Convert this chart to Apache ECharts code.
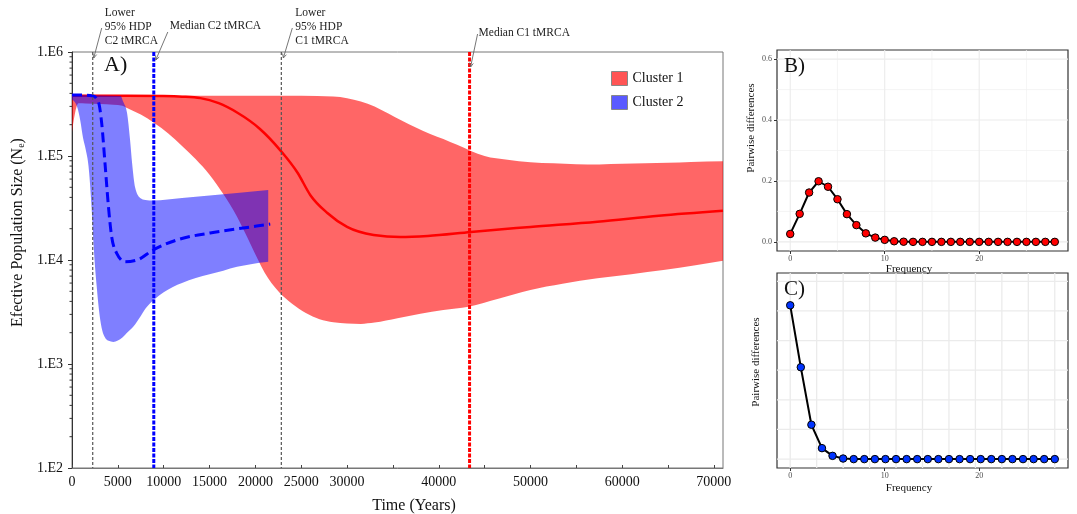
<!DOCTYPE html>
<html><head><meta charset="utf-8">
<script src="https://cdn.jsdelivr.net/npm/echarts@6/dist/echarts.min.js"></script>
<style>html,body{margin:0;padding:0;background:#fff}#c{width:1077px;height:514px}</style>
</head><body><div id="c"></div>
<script>
// ---------------- DATA ----------------
// Panel A: Bayesian skyline (years vs effective population size)
const c1UpperYears = [0, 5000, 10000, 15000, 20000, 25000, 28500, 30000, 31500, 33000, 34500, 36000, 37500, 39000, 40500, 42000, 43500, 45000, 47500, 50000, 52500, 55000, 57500, 60000, 62500, 65000, 67500, 71000];
const c1UpperNe    = [380000, 380000, 380000, 380000, 380000, 379000, 374000, 360000, 335000, 300000, 256000, 218000, 188000, 164000, 146000, 128000, 112000, 100000, 92000, 87000, 85000, 83500, 83000, 84000, 85000, 86000, 87500, 89000];
const c1LowerYears = [0, 300, 700, 1500, 3000, 4500, 5500, 6000, 7500, 9000, 10500, 12000, 13500, 15000, 16500, 18000, 19500, 21000, 22500, 24000, 25500, 27000, 28500, 30000, 31500, 33000, 35500, 38000, 40500, 43250, 46500, 50000, 53500, 57300, 61000, 64500, 68000, 71000];
const c1LowerNe    = [170000, 250000, 322000, 320000, 316000, 311000, 305000, 290000, 250000, 207000, 165000, 125000, 93000, 66000, 43000, 26000, 14000, 7600, 5000, 3800, 3100, 2700, 2520, 2450, 2430, 2500, 2750, 3050, 3300, 3560, 4250, 5150, 5900, 6670, 7300, 8000, 8900, 9850];
const c1MedianYears = [0, 6000, 10000, 12000, 14000, 16000, 18000, 20500, 22700, 24600, 26000, 27850, 30000, 32900, 35800, 38800, 43500, 50000, 57300, 64000, 71000];
const c1MedianNe    = [380000, 380000, 377000, 372000, 360000, 322000, 262000, 182000, 114000, 69000, 42000, 28300, 20800, 17400, 16600, 17000, 18600, 20800, 23300, 26700, 29800];

const c2UpperYears = [0, 3000, 5300, 5600, 6000, 6330, 6550, 6880, 7430, 8000, 8850, 12000, 15000, 18000, 21400];
const c2UpperNe    = [385000, 382000, 378000, 330000, 260000, 143000, 86000, 50000, 39500, 37800, 37300, 39500, 41700, 44200, 47100];
const c2LowerYears = [0, 300, 600, 900, 1200, 1500, 1800, 2100, 2400, 2700, 3000, 3300, 3600, 4000, 4500, 5000, 5500, 6000, 6700, 7500, 8000, 9000, 10000, 11000, 12000, 13500, 15000, 16500, 18000, 19500, 21400];
const c2LowerNe    = [350000, 330000, 290000, 220000, 150000, 115000, 80000, 36000, 12000, 5500, 3000, 2100, 1800, 1670, 1630, 1680, 1800, 2000, 2300, 2900, 3400, 4200, 4900, 5500, 6000, 6700, 7300, 7900, 8600, 9100, 9600];
const c2MedianYears = [0, 1000, 2300, 2870, 3240, 3600, 3970, 4330, 4880, 5790, 7100, 8850, 11470, 15070, 18670, 21620];
const c2MedianNe    = [385000, 385000, 377000, 333000, 206000, 85000, 33000, 16700, 11600, 9600, 10000, 12500, 15600, 18200, 20300, 22200];

const tmrcaYears  = [2260, 8920, 22830, 43360];
const tmrcaLabels = ['Lower\n95% HDP\nC2 tMRCA', 'Median C2 tMRCA', 'Lower\n95% HDP\nC1 tMRCA', 'Median C1 tMRCA'];

const xTickValues  = [0, 5000, 10000, 15000, 20000, 25000, 30000, 35000, 40000, 45000, 50000, 55000, 60000, 65000, 70000];
const xLabelValues = [0, 5000, 10000, 15000, 20000, 25000, 30000, 40000, 50000, 60000, 70000];
const yMinorTicks  = [200, 300, 400, 500, 600, 700, 800, 900, 2000, 3000, 4000, 5000, 6000, 7000, 8000, 9000,
                      20000, 30000, 40000, 50000, 60000, 70000, 80000, 90000, 200000, 300000, 400000, 500000, 600000, 700000, 800000, 900000];

// Panel B: mismatch distribution, Cluster 1
const bX = [0, 1, 2, 3, 4, 5, 6, 7, 8, 9, 10, 11, 12, 13, 14, 15, 16, 17, 18, 19, 20, 21, 22, 23, 24, 25, 26, 27, 28];
const bY = [0.026, 0.092, 0.162, 0.199, 0.181, 0.140, 0.091, 0.055, 0.028, 0.014, 0.0066, 0.002, 0.0005, 0, 0, 0, 0, 0, 0, 0, 0, 0, 0, 0, 0, 0, 0, 0, 0];
// Panel C: mismatch distribution, Cluster 2
const cX = [0, 1.12, 2.24, 3.36, 4.48, 5.6, 6.72, 7.84, 8.96, 10.08, 11.2, 12.32, 13.44, 14.56, 15.68, 16.8, 17.92, 19.04, 20.16, 21.28, 22.4, 23.52, 24.64, 25.76, 26.88, 28];
const cY = [0.519, 0.310, 0.116, 0.037, 0.011, 0.002, 0, 0, 0, 0, 0, 0, 0, 0, 0, 0, 0, 0, 0, 0, 0, 0, 0, 0, 0, 0];

const mmLabelX = [0, 10, 20];
const bLabelY  = [0, 0.2, 0.4, 0.6];
const bGridMajorX = [0, 10, 20], bGridMinorX = [5, 15, 25];
const bGridMajorY = [0, 0.2, 0.4, 0.6], bGridMinorY = [0.1, 0.3, 0.5];
const cGridX = [0, 2.8, 5.6, 8.4, 11.2, 14, 16.8, 19.6, 22.4, 25.2, 28];
const cGridY = [0, 0.1, 0.2, 0.3, 0.4, 0.5, 0.6];

// ---------------- STYLE / RENDER ----------------
const F = '"Liberation Serif","Times New Roman",serif';
const pairs = (xs, ys) => xs.map((x, i) => [x, ys[i]]);

function monoSegs(pts) {
  const n = pts.length, h = [], s = [], t = [];
  for (let i = 0; i < n - 1; i++) { h[i] = pts[i + 1][0] - pts[i][0]; s[i] = (pts[i + 1][1] - pts[i][1]) / (h[i] || 1e-6); }
  for (let i = 1; i < n - 1; i++) {
    const p = (s[i - 1] * h[i] + s[i] * h[i - 1]) / (h[i - 1] + h[i]);
    t[i] = (Math.sign(s[i - 1]) + Math.sign(s[i])) * Math.min(Math.abs(s[i - 1]), Math.abs(s[i]), 0.5 * Math.abs(p));
  }
  t[0] = n > 2 ? (3 * s[0] - t[1]) / 2 : s[0];
  t[n - 1] = n > 2 ? (3 * s[n - 2] - t[n - 2]) / 2 : s[n - 2];
  const segs = [];
  for (let i = 0; i < n - 1; i++) {
    const d = h[i] / 3;
    segs.push([pts[i], [pts[i][0] + d, pts[i][1] + d * t[i]], [pts[i + 1][0] - d, pts[i + 1][1] - d * t[i + 1]], pts[i + 1]]);
  }
  return segs;
}
const fp = p => p[0].toFixed(2) + ',' + p[1].toFixed(2);
function bandRender(upX, upY, loX, loY, fill) {
  return function (params, api) {
    const up = upX.map((x, i) => api.coord([x, upY[i]]));
    const lo = loX.map((x, i) => api.coord([x, loY[i]]));
    const su = monoSegs(up), sl = monoSegs(lo);
    let d = 'M' + fp(up[0]);
    su.forEach(s => { d += ' C' + fp(s[1]) + ' ' + fp(s[2]) + ' ' + fp(s[3]); });
    d += ' L' + fp(lo[lo.length - 1]);
    for (let i = sl.length - 1; i >= 0; i--) { const s = sl[i]; d += ' C' + fp(s[2]) + ' ' + fp(s[1]) + ' ' + fp(s[0]); }
    d += ' Z';
    return { type: 'path', shape: { pathData: d }, style: { fill: fill, stroke: null } };
  };
}
function curveRender(xs, ys, style) {
  return function (params, api) {
    const pts = xs.map((x, i) => api.coord([x, ys[i]]));
    const sg = monoSegs(pts);
    let d = 'M' + fp(pts[0]);
    sg.forEach(s => { d += ' C' + fp(s[1]) + ' ' + fp(s[2]) + ' ' + fp(s[3]); });
    return { type: 'path', shape: { pathData: d }, style: Object.assign({ fill: null }, style) };
  };
}
const annStyle = [
  { tx: 12, ty: -46, ax1: 9, ay1: -24, ax2: 1, ay2: 6 },
  { tx: 16, ty: -33, ax1: 14, ay1: -20, ax2: 2, ay2: 8 },
  { tx: 14, ty: -46, ax1: 11, ay1: -24, ax2: 2, ay2: 6 },
  { tx: 9, ty: -26, ax1: 8, ay1: -18, ax2: 1, ay2: 15 }
];
const vlineStyle = [
  { stroke: '#555', lineWidth: 1.2, lineDash: [3, 2] },
  { stroke: '#0000FF', lineWidth: 3, lineDash: [4, 1.5] },
  { stroke: '#555', lineWidth: 1.2, lineDash: [3, 2] },
  { stroke: '#FF0000', lineWidth: 3, lineDash: [4, 1.5] }
];
function gridRender(vx, hy, vxMinor, hyMinor, majW, minW) {
  return function (params, api) {
    const cs = params.coordSys, ch = [];
    const add = (vals, vertical, major) => vals.forEach(v => {
      const p = api.coord(vertical ? [v, 0] : [0, v]);
      ch.push({ type: 'line', shape: vertical ? { x1: p[0], y1: cs.y, x2: p[0], y2: cs.y + cs.height } : { x1: cs.x, y1: p[1], x2: cs.x + cs.width, y2: p[1] },
        style: { stroke: major ? '#EBEBEB' : '#F1F1F1', lineWidth: major ? majW : minW } });
    });
    add(vxMinor, true, false); add(hyMinor, false, false);
    add(vx, true, true); add(hy, false, true);
    return { type: 'group', children: ch };
  };
}

const chart = echarts.init(document.getElementById('c'), null, { renderer: 'canvas', width: 1077, height: 514 });
const tickLab = { fontFamily: F, fontSize: 8, color: '#4D4D4D' };
const option = {
  backgroundColor: '#fff',
  animation: false,
  title: [
    { text: 'A)', left: 104, top: 54, padding: 0, textStyle: { fontFamily: F, fontSize: 22, fontWeight: 'normal', color: '#111' } },
    { text: 'B)', left: 784, top: 56, padding: 0, textStyle: { fontFamily: F, fontSize: 21, fontWeight: 'normal', color: '#111' } },
    { text: 'C)', left: 784, top: 279, padding: 0, textStyle: { fontFamily: F, fontSize: 21, fontWeight: 'normal', color: '#111' } }
  ],
  legend: {
    data: [
      { name: 'Cluster 1', icon: 'rect', itemStyle: { color: '#FF5555', borderColor: '#888', borderWidth: 1 } },
      { name: 'Cluster 2', icon: 'rect', itemStyle: { color: '#5A5AFF', borderColor: '#888', borderWidth: 1 } }
    ],
    orient: 'vertical', left: 611, top: 71, itemWidth: 16, itemHeight: 14, itemGap: 9, padding: 0,
    selectedMode: false, textStyle: { fontFamily: F, fontSize: 14, color: '#111' }
  },
  grid: [
    { left: 72, top: 52, width: 651, height: 416, show: true, borderColor: '#777', borderWidth: 1, containLabel: false, outerBoundsMode: 'none' },
    { left: 777, top: 50, width: 291, height: 201, show: true, borderColor: '#333', borderWidth: 1.2, containLabel: false, outerBoundsMode: 'none' },
    { left: 777, top: 273, width: 291, height: 195, show: true, borderColor: '#333', borderWidth: 1.2, containLabel: false, outerBoundsMode: 'none' }
  ],
  xAxis: [
    { gridIndex: 0, type: 'value', min: 0, max: 71000,
      axisLine: { show: true, onZero: false, lineStyle: { color: '#777', width: 1 } },
      axisTick: { show: true, inside: true, length: 3, customValues: xTickValues, lineStyle: { color: '#444' } },
      axisLabel: { customValues: xLabelValues, formatter: v => String(v), margin: 7, fontFamily: F, fontSize: 14, color: '#111' },
      splitLine: { show: false },
      name: 'Time (Years)', nameLocation: 'middle', nameGap: 30,
      nameTextStyle: { fontFamily: F, fontSize: 16, color: '#111', padding: [0, 0, 0, 33] } },
    { gridIndex: 1, type: 'value', min: -1.4, max: 29.4,
      axisLine: { show: false, onZero: false },
      axisTick: { show: true, length: 3, customValues: mmLabelX, lineStyle: { color: '#333' } },
      axisLabel: Object.assign({ customValues: mmLabelX, margin: 4, formatter: v => String(v) }, tickLab),
      splitLine: { show: false },
      name: 'Frequency', nameLocation: 'middle', nameGap: 11,
      nameTextStyle: { fontFamily: F, fontSize: 11, color: '#111', padding: [0, 27, 0, 0] } },
    { gridIndex: 2, type: 'value', min: -1.4, max: 29.4,
      axisLine: { show: false, onZero: false },
      axisTick: { show: true, length: 3, customValues: mmLabelX, lineStyle: { color: '#333' } },
      axisLabel: Object.assign({ customValues: mmLabelX, margin: 4, formatter: v => String(v) }, tickLab),
      splitLine: { show: false },
      name: 'Frequency', nameLocation: 'middle', nameGap: 15,
      nameTextStyle: { fontFamily: F, fontSize: 11, color: '#111', padding: [0, 27, 0, 0] } }
  ],
  yAxis: [
    { gridIndex: 0, type: 'log', logBase: 10, min: 100, max: 1000000,
      axisLine: { show: true, onZero: false, lineStyle: { color: '#333', width: 1 } },
      axisTick: { show: true, length: 4, lineStyle: { color: '#333' } },
      axisLabel: { formatter: v => '1.E' + Math.round(Math.log10(v)), margin: 9, fontFamily: F, fontSize: 14, color: '#111' },
      splitLine: { show: false },
      name: '{a|Efective Population Size (N}{s|e}{a|)}', nameLocation: 'middle', nameGap: 43,
      nameTextStyle: { padding: [0, 0, 0, 55], rich: {
        a: { fontFamily: F, fontSize: 16, color: '#111' },
        s: { fontFamily: F, fontSize: 10, color: '#111', verticalAlign: 'bottom' } } } },
    { gridIndex: 1, type: 'value', min: -0.03, max: 0.63,
      axisLine: { show: false, onZero: false },
      axisTick: { show: true, length: 3, customValues: bLabelY, lineStyle: { color: '#333' } },
      axisLabel: Object.assign({ customValues: bLabelY, margin: 5, formatter: v => v.toFixed(1) }, tickLab),
      splitLine: { show: false },
      name: 'Pairwise differences', nameLocation: 'middle', nameGap: 20,
      nameTextStyle: { fontFamily: F, fontSize: 11, color: '#111', padding: [0, 0, 0, 45] } },
    { gridIndex: 2, type: 'value', min: -0.03, max: 0.628,
      axisLine: { show: false, onZero: false }, axisTick: { show: false }, axisLabel: { show: false },
      splitLine: { show: false },
      name: 'Pairwise differences', nameLocation: 'middle', nameGap: 15,
      nameTextStyle: { fontFamily: F, fontSize: 11, color: '#111', padding: [0, 0, 0, 17] } }
  ],
  series: [
    { type: 'custom', name: 'Cluster 1', xAxisIndex: 0, yAxisIndex: 0, z: 1, silent: true,
      data: [[c1UpperYears[0], c1UpperNe[0]]], itemStyle: { color: '#FF5555' },
      renderItem: bandRender(c1UpperYears, c1UpperNe, c1LowerYears, c1LowerNe, 'rgba(255,0,0,0.6)') },
    { type: 'custom', name: 'C1 median', xAxisIndex: 0, yAxisIndex: 0, z: 2, silent: true,
      data: [[c1MedianYears[0], c1MedianNe[0]]],
      renderItem: curveRender(c1MedianYears, c1MedianNe, { stroke: '#FF0000', lineWidth: 2.5 }) },
    { type: 'custom', name: 'Cluster 2', xAxisIndex: 0, yAxisIndex: 0, z: 3, silent: true,
      data: [[c2UpperYears[0], c2UpperNe[0]]], itemStyle: { color: '#5A5AFF' },
      renderItem: bandRender(c2UpperYears, c2UpperNe, c2LowerYears, c2LowerNe, 'rgba(0,0,255,0.5)') },
    { type: 'custom', name: 'C2 median', xAxisIndex: 0, yAxisIndex: 0, z: 4, silent: true,
      data: [[c2MedianYears[0], c2MedianNe[0]]],
      renderItem: curveRender(c2MedianYears, c2MedianNe, { stroke: '#0000FF', lineWidth: 3, lineDash: [10, 5] }) },
    { type: 'custom', name: 'tMRCA lines', xAxisIndex: 0, yAxisIndex: 0, z: 5, silent: true,
      data: tmrcaYears.map(x => [x, 1000000]),
      renderItem: function (params, api) {
        const i = params.dataIndex;
        const a = api.coord([tmrcaYears[i], 1000000]), b = api.coord([tmrcaYears[i], 100]);
        return { type: 'line', shape: { x1: a[0], y1: a[1], x2: b[0], y2: b[1] }, style: Object.assign({ fill: null }, vlineStyle[i]) };
      } },
    { type: 'custom', name: 'tMRCA notes', xAxisIndex: 0, yAxisIndex: 0, z: 6, silent: true,
      data: tmrcaYears.map(x => [x, 1000000]),
      renderItem: function (params, api) {
        const i = params.dataIndex, st = annStyle[i];
        const top = api.coord([tmrcaYears[i], 1000000]);
        const lx = top[0], ty = top[1];
        const x1 = lx + st.ax1, y1 = ty + st.ay1, x2 = lx + st.ax2, y2 = ty + st.ay2;
        const ang = Math.atan2(y2 - y1, x2 - x1), L = 4.5, w = 0.45;
        const h1 = [x2 - L * Math.cos(ang - w), y2 - L * Math.sin(ang - w)];
        const h2 = [x2 - L * Math.cos(ang + w), y2 - L * Math.sin(ang + w)];
        return { type: 'group', children: [
          { type: 'text', style: { text: tmrcaLabels[i], x: lx + st.tx, y: ty + st.ty, fontFamily: 'Liberation Serif', fontSize: 11.5, fill: '#222', lineHeight: 14, align: 'left', verticalAlign: 'top' } },
          { type: 'line', shape: { x1: x1, y1: y1, x2: x2, y2: y2 }, style: { stroke: '#666', lineWidth: 0.9 } },
          { type: 'polyline', shape: { points: [h1, [x2, y2], h2] }, style: { stroke: '#666', lineWidth: 0.9, fill: null } }
        ] };
      } },
    { type: 'custom', name: 'minor ticks', xAxisIndex: 0, yAxisIndex: 0, z: 6, silent: true,
      data: yMinorTicks.map(v => [0, v]),
      renderItem: function (params, api) {
        const p = api.coord([0, yMinorTicks[params.dataIndex]]);
        return { type: 'line', shape: { x1: p[0] - 2.5, y1: p[1], x2: p[0], y2: p[1] }, style: { stroke: '#333', lineWidth: 1 } };
      } },
    { type: 'custom', name: 'B grid', xAxisIndex: 1, yAxisIndex: 1, z: 0, silent: true, data: [[0, 0]],
      renderItem: gridRender(bGridMajorX, bGridMajorY, bGridMinorX, bGridMinorY, 1.1, 0.7) },
    { type: 'custom', name: 'C grid', xAxisIndex: 2, yAxisIndex: 2, z: 0, silent: true, data: [[0, 0]],
      renderItem: gridRender(cGridX, cGridY, [], [], 1.3, 0.7) },
    { type: 'line', name: 'B', xAxisIndex: 1, yAxisIndex: 1, z: 3, silent: true,
      data: pairs(bX, bY), symbol: 'circle', symbolSize: 7.5, showSymbol: true,
      itemStyle: { color: '#FF0000', borderColor: '#000', borderWidth: 1 }, lineStyle: { color: '#000', width: 2 } },
    { type: 'line', name: 'C', xAxisIndex: 2, yAxisIndex: 2, z: 3, silent: true,
      data: pairs(cX, cY), symbol: 'circle', symbolSize: 7.5, showSymbol: true,
      itemStyle: { color: '#0033FF', borderColor: '#000', borderWidth: 1 }, lineStyle: { color: '#000', width: 2 } }
  ]
};
chart.setOption(option);
</script>
</body></html>
